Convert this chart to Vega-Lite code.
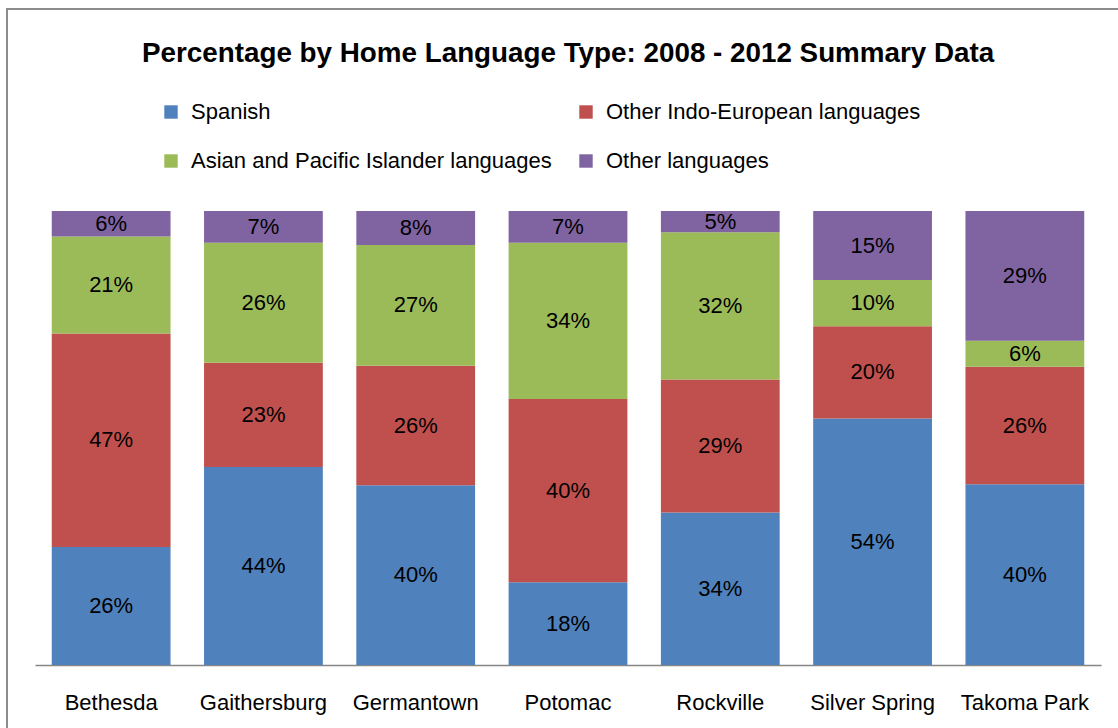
{
  "$schema": "https://vega.github.io/schema/vega-lite/v6.json",
  "width": 1120,
  "height": 725,
  "autosize": "none",
  "padding": {"left": 7, "top": 9, "right": 0, "bottom": 0},
  "background": "white",
  "title": {
    "text": "Percentage by Home Language Type: 2008 - 2012 Summary Data",
    "font": "Liberation Sans",
    "fontSize": 27.8,
    "fontWeight": "bold",
    "color": "#000000",
    "anchor": "start",
    "frame": "group",
    "dx": 135,
    "offset": -59
  },
  "data": {
    "values": [
      {"city": "Bethesda", "lang": "Spanish", "k": 1, "v": 26.0, "label": "26%"},
      {"city": "Bethesda", "lang": "Other Indo-European languages", "k": 2, "v": 47.0, "label": "47%"},
      {"city": "Bethesda", "lang": "Asian and Pacific Islander languages", "k": 3, "v": 21.4, "label": "21%"},
      {"city": "Bethesda", "lang": "Other languages", "k": 4, "v": 5.6, "label": "6%"},
      {"city": "Gaithersburg", "lang": "Spanish", "k": 1, "v": 43.6, "label": "44%"},
      {"city": "Gaithersburg", "lang": "Other Indo-European languages", "k": 2, "v": 23.0, "label": "23%"},
      {"city": "Gaithersburg", "lang": "Asian and Pacific Islander languages", "k": 3, "v": 26.4, "label": "26%"},
      {"city": "Gaithersburg", "lang": "Other languages", "k": 4, "v": 7.0, "label": "7%"},
      {"city": "Germantown", "lang": "Spanish", "k": 1, "v": 39.6, "label": "40%"},
      {"city": "Germantown", "lang": "Other Indo-European languages", "k": 2, "v": 26.3, "label": "26%"},
      {"city": "Germantown", "lang": "Asian and Pacific Islander languages", "k": 3, "v": 26.6, "label": "27%"},
      {"city": "Germantown", "lang": "Other languages", "k": 4, "v": 7.5, "label": "8%"},
      {"city": "Potomac", "lang": "Spanish", "k": 1, "v": 18.2, "label": "18%"},
      {"city": "Potomac", "lang": "Other Indo-European languages", "k": 2, "v": 40.4, "label": "40%"},
      {"city": "Potomac", "lang": "Asian and Pacific Islander languages", "k": 3, "v": 34.4, "label": "34%"},
      {"city": "Potomac", "lang": "Other languages", "k": 4, "v": 7.0, "label": "7%"},
      {"city": "Rockville", "lang": "Spanish", "k": 1, "v": 33.6, "label": "34%"},
      {"city": "Rockville", "lang": "Other Indo-European languages", "k": 2, "v": 29.3, "label": "29%"},
      {"city": "Rockville", "lang": "Asian and Pacific Islander languages", "k": 3, "v": 32.4, "label": "32%"},
      {"city": "Rockville", "lang": "Other languages", "k": 4, "v": 4.7, "label": "5%"},
      {"city": "Silver Spring", "lang": "Spanish", "k": 1, "v": 54.3, "label": "54%"},
      {"city": "Silver Spring", "lang": "Other Indo-European languages", "k": 2, "v": 20.3, "label": "20%"},
      {"city": "Silver Spring", "lang": "Asian and Pacific Islander languages", "k": 3, "v": 10.2, "label": "10%"},
      {"city": "Silver Spring", "lang": "Other languages", "k": 4, "v": 15.2, "label": "15%"},
      {"city": "Takoma Park", "lang": "Spanish", "k": 1, "v": 39.8, "label": "40%"},
      {"city": "Takoma Park", "lang": "Other Indo-European languages", "k": 2, "v": 25.9, "label": "26%"},
      {"city": "Takoma Park", "lang": "Asian and Pacific Islander languages", "k": 3, "v": 5.7, "label": "6%"},
      {"city": "Takoma Park", "lang": "Other languages", "k": 4, "v": 28.6, "label": "29%"}
    ]
  },
  "encoding": {
    "x": {
      "field": "city",
      "type": "nominal",
      "sort": null,
      "title": null,
      "scale": {"range": [28, 1094], "paddingInner": 0.22, "paddingOuter": 0.11},
      "axis": {
        "labelAngle": 0,
        "ticks": false,
        "offset": -69,
        "domainColor": "#868686",
        "domainWidth": 1.5,
        "labelFont": "Liberation Sans",
        "labelFontSize": 22,
        "labelColor": "#000000",
        "labelPadding": 27
      }
    },
    "y": {
      "field": "v",
      "type": "quantitative",
      "stack": "normalize",
      "scale": {"range": [656, 202]},
      "axis": null
    },
    "order": {"field": "k", "type": "quantitative"}
  },
  "layer": [
    {
      "mark": {"type": "bar"},
      "encoding": {
        "color": {
          "field": "lang",
          "type": "nominal",
          "scale": {
            "domain": ["Spanish", "Other Indo-European languages", "Asian and Pacific Islander languages", "Other languages"],
            "range": ["#4F81BD", "#C0504D", "#9BBB59", "#8064A2"]
          },
          "legend": {
            "orient": "none",
            "legendX": 153,
            "legendY": 92,
            "direction": "horizontal",
            "columns": 2,
            "columnPadding": 23,
            "rowPadding": 27,
            "title": null,
            "symbolType": "square",
            "symbolSize": 180,
            "symbolStrokeWidth": 0,
            "labelFont": "Liberation Sans",
            "labelFontSize": 22,
            "labelColor": "#000000",
            "labelOffset": 9,
            "labelLimit": 600,
            "padding": 0
          }
        }
      }
    },
    {
      "mark": {
        "type": "text",
        "font": "Liberation Sans",
        "fontSize": 22,
        "color": "#000000",
        "baseline": "middle",
        "align": "center"
      },
      "encoding": {
        "y": {
          "field": "v",
          "type": "quantitative",
          "stack": "normalize",
          "bandPosition": 0.5
        },
        "text": {"field": "label"}
      }
    }
  ],
  "config": {"view": {"stroke": "#8C8C8C", "strokeWidth": 2}}
}
